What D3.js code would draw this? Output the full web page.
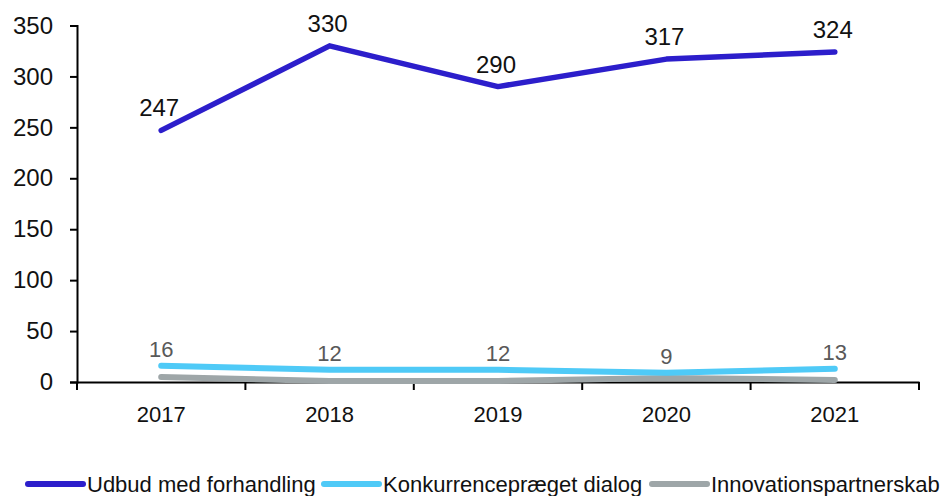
<!DOCTYPE html>
<html>
<head>
<meta charset="utf-8">
<script src="https://cdn.jsdelivr.net/npm/d3@7"></script>
<style>
  body { margin: 0; background: #fff; }
  svg { display: block; font-family: "Liberation Sans", Arial, sans-serif; }
</style>
</head>
<body>
<div id="chart"></div>
<script>
// Data
const years = ["2017", "2018", "2019", "2020", "2021"];
const udbud = [247, 330, 290, 317, 324];
const konkurrence = [16, 12, 12, 9, 13];
const innovation = [5, 1, 1, 4, 2];
const yTicks = [0, 50, 100, 150, 200, 250, 300, 350];
const seriesNames = ["Udbud med forhandling", "Konkurrencepræget dialog", "Innovationspartnerskab"];

const width = 940;
const height = 496;

const svg = d3.select("#chart").append("svg")
  .attr("width", width)
  .attr("height", height);

const x = d3.scaleBand().domain(years).range([77, 919]);
const y = d3.scaleLinear().domain([0, 350]).range([382, 25.5]);

// Y axis
const yAxis = svg.append("g")
  .attr("transform", "translate(77,0)")
  .call(d3.axisLeft(y).tickValues(yTicks).tickSize(7).tickSizeOuter(7).tickPadding(17));
yAxis.select(".domain").attr("stroke", "#000").attr("stroke-width", 2);
yAxis.selectAll(".tick line").attr("stroke", "#000").attr("stroke-width", 2);
yAxis.selectAll(".tick text")
  .attr("font-size", 24)
  .attr("fill", "#111")
  .attr("font-family", "Liberation Sans, Arial, sans-serif");

// X axis: labels centred on bands, ticks on band edges
const xAxis = svg.append("g")
  .attr("transform", "translate(0,382)")
  .call(d3.axisBottom(x).tickSize(0).tickSizeOuter(0).tickPadding(24));
xAxis.select(".domain").attr("stroke", "#000").attr("stroke-width", 2);
xAxis.selectAll(".tick text")
  .attr("font-size", 22)
  .attr("fill", "#111")
  .attr("font-family", "Liberation Sans, Arial, sans-serif");
const edges = years.map(d => x(d)).concat([x.range()[1]]);
xAxis.selectAll(".edge")
  .data(edges)
  .join("line")
  .attr("class", "edge")
  .attr("x1", d => d).attr("x2", d => d)
  .attr("y1", 0).attr("y2", 8)
  .attr("stroke", "#000")
  .attr("stroke-width", 2);

const cx = d => x(d) + x.bandwidth() / 2;

const series = [
  { name: seriesNames[2], values: innovation, color: "#9ea6a8", width: 6 },
  { name: seriesNames[1], values: konkurrence, color: "#4fcaf7", width: 6 },
  { name: seriesNames[0], values: udbud, color: "#2c1ecb", width: 5.5 }
];

const line = d3.line()
  .x((d, i) => cx(years[i]))
  .y(d => y(d));

svg.selectAll(".series")
  .data(series)
  .join("path")
  .attr("class", "series")
  .attr("d", s => line(s.values))
  .attr("fill", "none")
  .attr("stroke", s => s.color)
  .attr("stroke-width", s => s.width)
  .attr("stroke-linecap", "round")
  .attr("stroke-linejoin", "round");

// Value labels
svg.selectAll(".lbl-udbud")
  .data(udbud)
  .join("text")
  .attr("class", "lbl-udbud")
  .attr("x", (d, i) => cx(years[i]) - 2)
  .attr("y", d => y(d) - 14)
  .attr("text-anchor", "middle")
  .attr("font-size", 24)
  .attr("fill", "#111")
  .text(d => d);

svg.selectAll(".lbl-konk")
  .data(konkurrence)
  .join("text")
  .attr("class", "lbl-konk")
  .attr("x", (d, i) => cx(years[i]))
  .attr("y", d => y(d) - 9)
  .attr("text-anchor", "middle")
  .attr("font-size", 22)
  .attr("fill", "#595959")
  .text(d => d);

// Legend
const legendItems = [
  { name: seriesNames[0], color: "#2c1ecb", x: 28 },
  { name: seriesNames[1], color: "#4fcaf7", x: 324 },
  { name: seriesNames[2], color: "#9ea6a8", x: 652 }
];
const legend = svg.append("g");
const lg = legend.selectAll("g")
  .data(legendItems)
  .join("g")
  .attr("transform", d => `translate(${d.x},484)`);
lg.append("line")
  .attr("x1", 0).attr("x2", 55)
  .attr("y1", 0).attr("y2", 0)
  .attr("stroke", d => d.color)
  .attr("stroke-width", 6)
  .attr("stroke-linecap", "round");
lg.append("text")
  .attr("x", 59)
  .attr("y", 7.5)
  .attr("font-size", 22)
  .attr("fill", "#111")
  .text(d => d.name);
</script>
</body>
</html>
